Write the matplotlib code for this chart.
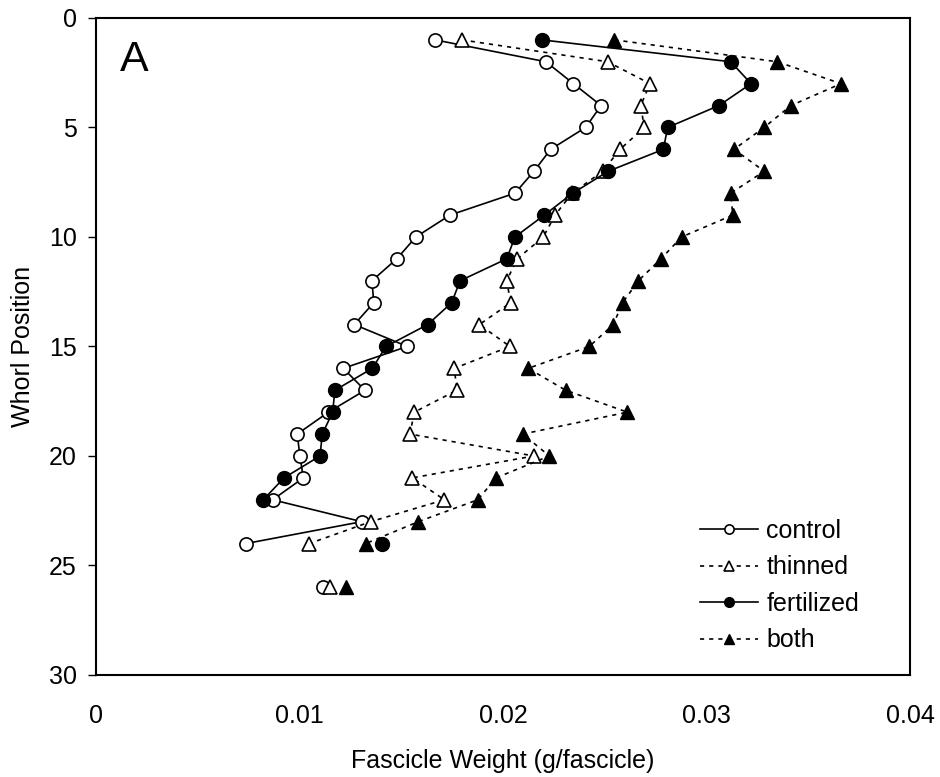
import numpy as np
import matplotlib.pyplot as plt
from matplotlib.ticker import FixedLocator, FixedFormatter

plt.rcParams['font.family'] = ['Liberation Sans', 'DejaVu Sans']

nan = np.nan

# whorl positions 1..26 (whorl 25 not sampled)
whorl = np.arange(1, 27)

control = [0.01666, 0.02211, 0.02346, 0.02482, 0.02406, 0.02234, 0.02152, 0.02059,
           0.01740, 0.01572, 0.01478, 0.01356, 0.01365, 0.01269, 0.01530, 0.01215,
           0.01322, 0.01142, 0.00989, 0.01002, 0.01019, 0.00868, 0.01306, 0.00736,
           nan, 0.01117]
thinned = [0.01797, 0.02514, 0.02722, 0.02677, 0.02694, 0.02575, 0.02490, 0.02340,
           0.02256, 0.02198, 0.02070, 0.02018, 0.02038, 0.01884, 0.02034, 0.01761,
           0.01773, 0.01564, 0.01543, 0.02152, 0.01554, 0.01712, 0.01350, 0.01048,
           nan, 0.01150]
fertilized = [0.02190, 0.03119, 0.03219, 0.03061, 0.02809, 0.02788, 0.02517, 0.02343,
              0.02203, 0.02059, 0.02018, 0.01789, 0.01748, 0.01630, 0.01425, 0.01358,
              0.01174, 0.01163, 0.01112, 0.01101, 0.00924, 0.00822, nan, 0.01407,
              nan, nan]
both = [0.02547, 0.03348, 0.03661, 0.03415, 0.03283, 0.03135, 0.03284, 0.03119,
        0.03129, 0.02878, 0.02776, 0.02665, 0.02588, 0.02542, 0.02424, 0.02124,
        0.02308, 0.02611, 0.02097, 0.02228, 0.01966, 0.01876, 0.01584, 0.01325,
        nan, 0.01227]

x_ticks = [0, 0.01, 0.02, 0.03, 0.04]
x_ticklabels = ['0', '0.01', '0.02', '0.03', '0.04']
y_ticks = [0, 5, 10, 15, 20, 25, 30]

fig = plt.figure(figsize=(9.4, 7.77), dpi=100)
ax = fig.add_axes([0.1021, 0.1313, 0.866, 0.8456])

dots = (0, (2.5, 3))
ax.plot(control, whorl, color='black', lw=1.2, ls='-', marker='o', ms=9.5,
        mfc='white', mec='black', mew=1.2, label='control')
ax.plot(thinned, whorl, color='black', lw=1.2, ls=dots, marker='^', ms=9.5,
        mfc='white', mec='black', mew=1.2, label='thinned')
ax.plot(fertilized, whorl, color='black', lw=1.2, ls='-', marker='o', ms=10,
        mfc='black', mec='black', mew=1.0, label='fertilized')
ax.plot(both, whorl, color='black', lw=1.2, ls=dots, marker='^', ms=10,
        mfc='black', mec='black', mew=1.0, label='both')

ax.set_xlim(0, 0.04)
ax.set_ylim(30, 0)
ax.xaxis.set_major_locator(FixedLocator(x_ticks))
ax.xaxis.set_major_formatter(FixedFormatter(x_ticklabels))
ax.set_yticks(y_ticks)
ax.tick_params(axis='x', length=0, pad=21, labelsize=18)
ax.tick_params(axis='y', direction='out', length=6, width=1.0, pad=8, labelsize=18)
for s in ax.spines.values():
    s.set_linewidth(1.5)

ax.set_xlabel('Fascicle Weight (g/fascicle)', fontsize=18, labelpad=15)
ax.set_ylabel('Whorl Position', fontsize=18, labelpad=10)

ax.text(0.03, 0.967, 'A', transform=ax.transAxes, fontsize=31, va='top', ha='left')

ax.legend(loc='lower right', bbox_to_anchor=(0.965, 0.0), frameon=False,
          fontsize=18, handlelength=2.3, handletextpad=0.35, labelspacing=0.5,
          markerscale=0.7)

fig.savefig('out.png', dpi=100)
